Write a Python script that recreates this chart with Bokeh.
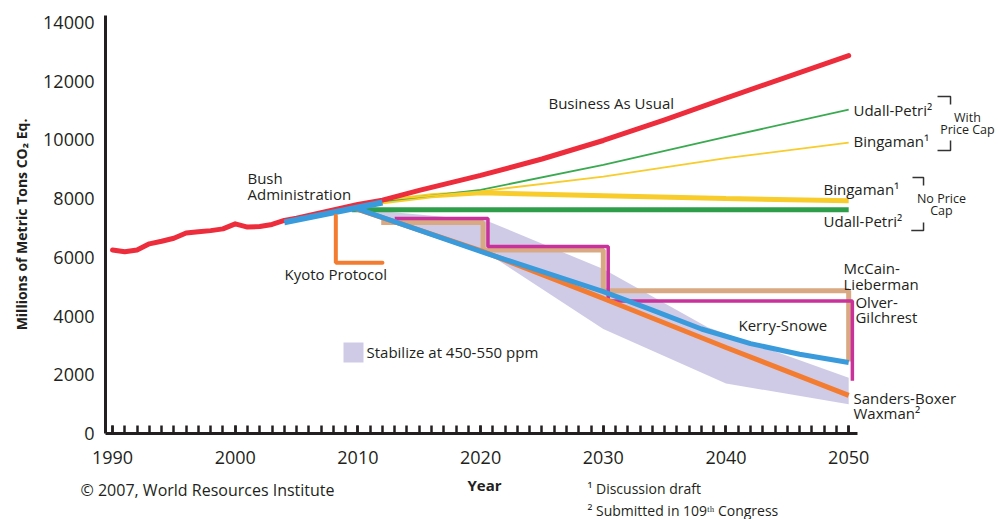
from bokeh.plotting import figure
from bokeh.models import Range1d, SingleIntervalTicker, Label, FixedTicker
from bokeh.embed import file_html
from bokeh.resources import INLINE

# ---------------- data ----------------
bau_years = [1990, 1991, 1992, 1993, 1994, 1995, 1996, 1997, 1998, 1999, 2000, 2001, 2002, 2003, 2004,
             2005, 2010, 2012, 2015, 2020, 2025, 2030, 2035, 2040, 2045, 2050]
bau_values = [6250, 6190, 6250, 6460, 6550, 6650, 6830, 6870, 6910, 6970, 7140, 7030, 7050, 7120, 7255,
              7330, 7800, 7950, 8280, 8790, 9350, 9980, 10680, 11420, 12150, 12870]

bush_years = [2004, 2012]
bush_values = [7190, 7870]

kyoto_years = [2008.2, 2008.2, 2012]
kyoto_values = [7420, 5820, 5820]

udall_cap_years = [2011.8, 2020, 2030, 2040, 2050]
udall_cap_values = [7900, 8300, 9150, 10100, 11035]

bingaman_cap_years = [2011.8, 2020, 2030, 2040, 2050]
bingaman_cap_values = [7950, 8250, 8750, 9380, 9910]

bingaman_nocap_years = [2011.5, 2016, 2020, 2030, 2040, 2050]
bingaman_nocap_values = [7870, 8100, 8200, 8100, 8000, 7930]

udall_nocap_years = [2009.5, 2050]
udall_nocap_values = [7620, 7620]

mccain_years = [2011.9, 2020.2, 2020.2, 2030.0, 2030.0, 2050.0, 2050.0]
mccain_values = [7190, 7190, 6250, 6250, 4860, 4860, 2450]

olver_years = [2013.0, 2020.6, 2020.6, 2030.4, 2030.4, 2050.3, 2050.3]
olver_values = [7320, 7320, 6370, 6370, 4510, 4510, 1800]

kerry_years = [2009.8, 2020, 2030, 2034, 2038, 2042, 2046, 2050]
kerry_values = [7680, 6200, 4830, 4200, 3560, 3060, 2700, 2420]

sanders_years = [2009.8, 2020, 2030, 2040, 2050]
sanders_values = [7660, 6230, 4600, 2930, 1300]

band_upper_years = [2010, 2020.5, 2030, 2038.5, 2050]
band_upper = [7650, 7250, 5600, 3620, 1900]
band_lower_years = [2010, 2020.5, 2030, 2040, 2050]
band_lower = [7650, 6150, 3560, 1700, 1000]

x_tick_labels = [1990, 2000, 2010, 2020, 2030, 2040, 2050]
y_tick_labels = [0, 2000, 4000, 6000, 8000, 10000, 12000, 14000]

# ---------------- styles ----------------
FONT = "Open Sans"
TXT = "#231f20"
RED = "#ed2d3b"
BLUE = "#3a9bdc"
ORANGE = "#f47c30"
GREEN = "#2e9e4a"
GREEN_THIN = "#3aaa50"
YELLOW = "#f7cc2b"
MAGENTA = "#c8329a"
TAN = "#d9a983"
LAVENDER = "#cfcbe7"

X0 = 1989.43   # left end of the x axis
X1 = 2050.7    # right end of the x axis
YTOP = 14237   # top of the y axis

p = figure(width=998, height=519, output_backend="svg", toolbar_location=None,
           x_range=Range1d(1980.87, 2062.21), y_range=Range1d(-2929, 14748),
           min_border_left=0, min_border_right=0, min_border_top=0, min_border_bottom=0)
p.outline_line_color = None
p.grid.visible = False
p.background_fill_color = "white"
p.border_fill_color = "white"

# band
bx = band_upper_years + band_lower_years[::-1]
by = band_upper + band_lower[::-1]
p.patch(bx, by, fill_color=LAVENDER, line_color=None)

# step scenarios
p.line(mccain_years, mccain_values, line_color=TAN, line_width=5)
p.line(olver_years, olver_values, line_color=MAGENTA, line_width=3.5)

p.line(udall_nocap_years, udall_nocap_values, line_color=GREEN, line_width=5)
p.line(bingaman_nocap_years, bingaman_nocap_values, line_color=YELLOW, line_width=5)
p.line(udall_cap_years, udall_cap_values, line_color=GREEN_THIN, line_width=1.8)
p.line(bingaman_cap_years, bingaman_cap_values, line_color=YELLOW, line_width=1.8)

p.line(sanders_years, sanders_values, line_color=ORANGE, line_width=5)
p.line(kerry_years, kerry_values, line_color=BLUE, line_width=5, line_join="round")
p.line(bau_years, bau_values, line_color=RED, line_width=5, line_cap="round", line_join="round")
p.line(bush_years, bush_values, line_color=BLUE, line_width=6)
p.line(kyoto_years, kyoto_values, line_color=ORANGE, line_width=4, line_cap="round")

# legend swatch
p.scatter([2009.64], [2759], marker="square", size=20, fill_color=LAVENDER, line_color=None)

# brackets (decorations)
br_col = "#333333"
p.line([2057.24, 2058.3, 2058.3], [11478, 11478, 11206], line_color=br_col, line_width=1.5)
p.line([2058.3, 2058.3, 2057.24], [9980, 9639, 9639], line_color=br_col, line_width=1.5)
p.line([2055.2, 2056.1, 2056.1], [8719, 8719, 8447], line_color=br_col, line_width=1.5)
p.line([2056.1, 2056.1, 2055.1], [7187, 6914, 6914], line_color=br_col, line_width=1.5)

def lab(x, y, text, size="15px", align="left", style="normal"):
    p.add_layout(Label(x=x, y=y, text=text, text_font=FONT, text_font_size=size,
                       text_color=TXT, text_align=align, text_baseline="middle",
                       text_font_style=style))

lab(2025.53, 11240, "Business As Usual")
lab(2001.0, 8719, "Bush")
lab(2001.0, 8174, "Administration")
lab(2004.02, 5416, "Kyoto Protocol")
lab(2050.39, 11035, "Udall-Petri²")
lab(2050.39, 9946, "Bingaman¹")
lab(2059.68, 10763, "With", size="12.5px", align="center")
lab(2059.68, 10354, "Price Cap", size="12.5px", align="center")
lab(2047.95, 8311, "Bingaman¹")
lab(2047.95, 7221, "Udall-Petri²")
lab(2057.56, 8004, "No Price", size="12.5px", align="center")
lab(2057.56, 7595, "Cap", size="12.5px", align="center")
lab(2049.58, 5620, "McCain-")
lab(2049.58, 5109, "Lieberman")
lab(2050.55, 4462, "Olver-")
lab(2050.55, 3985, "Gilchrest")
lab(2041.02, 3712, "Kerry-Snowe")
lab(2050.39, 1226, "Sanders-Boxer")
lab(2050.39, 715, "Waxman²")
lab(2010.7, 2759, "Stabilize at 450-550 ppm")
lab(2020.32, -1737, "Year", align="center", style="bold")
lab(1987.39, -1941, "© 2007, World Resources Institute", size="16px")
lab(2028.71, -1873, "¹ Discussion draft", size="14px")
lab(2028.71, -2623, "² Submitted in 109ᵗʰ Congress", size="14px")

# axes (fixed inside the frame)
xa = p.xaxis[0]
xa.fixed_location = 0
xa.ticker = SingleIntervalTicker(interval=10, num_minor_ticks=10)
xa.bounds = (X0, X1)
xa.major_label_overrides = {v: str(v) for v in x_tick_labels}
xa.axis_line_width = 3
xa.axis_line_color = TXT
xa.major_tick_in = 8
xa.major_tick_out = 0
xa.minor_tick_in = 8
xa.minor_tick_out = 0
xa.major_tick_line_width = 2.5
xa.minor_tick_line_width = 2.5
xa.major_tick_line_color = TXT
xa.minor_tick_line_color = TXT
xa.major_label_text_font = FONT
xa.major_label_text_font_size = "18px"
xa.major_label_text_color = TXT
xa.major_label_standoff = 17

ya = p.yaxis[0]
ya.fixed_location = X0
ya.ticker = FixedTicker(ticks=y_tick_labels)
ya.bounds = (0, YTOP)
ya.axis_line_width = 3
ya.axis_line_color = TXT
ya.major_tick_in = 0
ya.major_tick_out = 0
ya.minor_tick_line_color = None
ya.major_label_text_font = FONT
ya.major_label_text_font_size = "18px"
ya.major_label_text_color = TXT
ya.major_label_standoff = 11
ya.axis_label = "Millions of Metric Tons CO₂ Eq."
ya.axis_label_text_font = FONT
ya.axis_label_text_font_size = "14px"
ya.axis_label_text_font_style = "bold"
ya.axis_label_text_color = TXT
ya.axis_label_standoff = 9

open("out.html", "w").write(file_html(p, INLINE))
